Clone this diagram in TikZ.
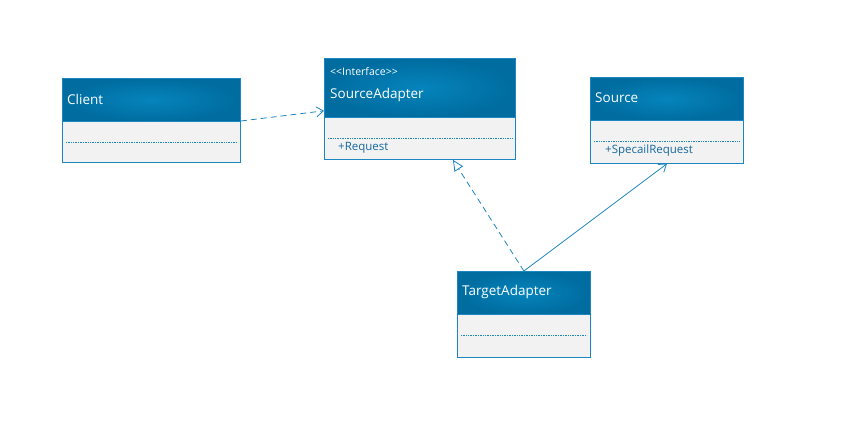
\documentclass[tikz,border=0pt]{standalone}
\usepackage{fontspec}
\setmainfont{Open Sans}
\usetikzlibrary{arrows.meta}
\definecolor{umldark}{HTML}{006C9F}
\definecolor{umllight}{HTML}{0584BC}
\definecolor{umlline}{HTML}{1C86C0}
\definecolor{umlbody}{HTML}{F2F2F2}
\definecolor{umltext}{HTML}{1667A0}
\tikzstyle{header}=[rectangle,draw=umlline,inner color=umllight,outer color=umldark,anchor=north west,inner sep=0,line width=0.8pt]
\tikzstyle{body}=[rectangle,draw=umlline,fill=umlbody,anchor=north west,inner sep=0,line width=0.8pt]
\tikzstyle{classname}=[anchor=west,text=white,font=\fontsize{13.5}{15}\selectfont,inner sep=0]
\tikzstyle{stereo}=[anchor=west,text=white,font=\fontsize{10.5}{12}\selectfont,inner sep=0]
\tikzstyle{member}=[anchor=west,text=umltext,font=\fontsize{11.5}{13}\selectfont,inner sep=0]
\tikzstyle{divider}=[umlline,densely dotted,line width=0.7pt]
\tikzstyle{depend}=[umlline,line width=0.8pt,dash pattern=on 6pt off 4pt,-{Straight Barb[length=7pt,width=10pt]}]
\tikzstyle{realize}=[umlline,line width=0.8pt,dash pattern=on 6pt off 4pt,-{Triangle[open,fill=white,length=11pt,width=10pt]}]
\tikzstyle{assoc}=[umlline,line width=0.8pt,-{Straight Barb[length=7pt,width=10pt]}]

\begin{document}
\begin{tikzpicture}[x=1pt,y=-1pt]
        \useasboundingbox (0,0) rectangle (851,436);

        \node[header,minimum width=178pt,minimum height=43pt] (chead) at (62,78) {};
        \node[body,minimum width=178pt,minimum height=41pt] (cbody) at (62,121) {};
        \node[classname] (cname) at (67,99) {Client};
        \draw[divider] ([xshift=4pt,yshift=-21pt]cbody.north west) -- ([xshift=-4pt,yshift=-21pt]cbody.north east);

        \node[header,minimum width=191pt,minimum height=59pt] (sahead) at (324,58) {};
        \node[body,minimum width=191pt,minimum height=42pt] (sabody) at (324,117) {};
        \node[stereo] (sastereo) at (330,72) {<\kern0pt<Interface>\kern0pt>};
        \node[classname] (saname) at (330,95) {SourceAdapter};
        \draw[divider] ([xshift=4pt,yshift=-21pt]sabody.north west) -- ([xshift=-4pt,yshift=-21pt]sabody.north east);
        \node[member] (request) at (338,148) {+Request};

        \node[header,minimum width=153pt,minimum height=43pt] (shead) at (590,77) {};
        \node[body,minimum width=153pt,minimum height=43pt] (sbody) at (590,120) {};
        \node[classname] (sname) at (595,98) {Source};
        \draw[divider] ([xshift=4pt,yshift=-21pt]sbody.north west) -- ([xshift=-4pt,yshift=-21pt]sbody.north east);
        \node[member] (special) at (605,151) {+SpecailRequest};

        \node[header,minimum width=133pt,minimum height=43pt] (tahead) at (457,271) {};
        \node[body,minimum width=133pt,minimum height=43pt] (tabody) at (457,314) {};
        \node[classname] (taname) at (462,292) {TargetAdapter};
        \draw[divider] ([xshift=4pt,yshift=-21pt]tabody.north west) -- ([xshift=-4pt,yshift=-21pt]tabody.north east);

        \draw[depend] (cbody.north east) -- ([yshift=7pt]sahead.south west);
        \draw[realize] (tahead.north) -- ([xshift=33pt]sabody.south);
        \draw[assoc] (tahead.north) -- (sbody.south);
    \end{tikzpicture}
\end{document}
